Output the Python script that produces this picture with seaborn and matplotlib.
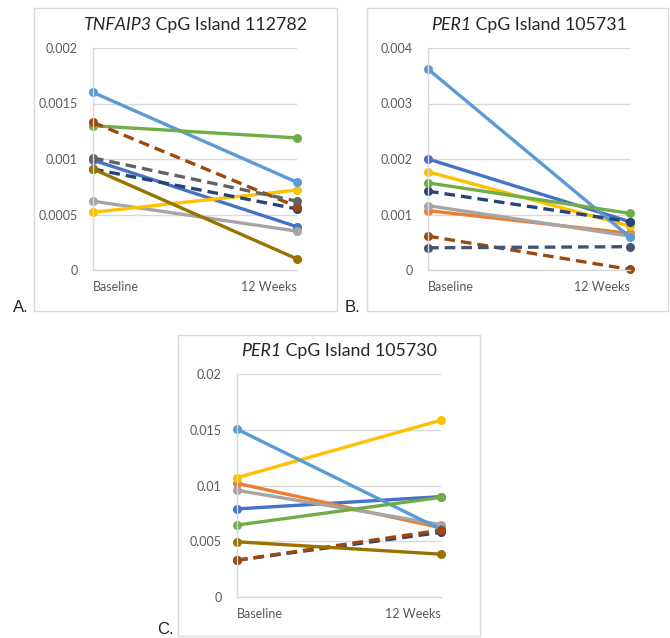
import matplotlib
matplotlib.use("Agg")
import matplotlib.pyplot as plt
from matplotlib.patches import Rectangle
import seaborn as sns
import pandas as pd

sns.set_style("white")
plt.rcParams["font.family"] = ["Lato", "DejaVu Sans"]

times = ["Baseline", "12 Weeks"]

# series name -> (baseline, 12 weeks)
tnfaip3_112782 = {
    "blue": [0.00099, 0.00039],
    "gray": [0.00062, 0.00035],
    "yellow": [0.00052, 0.00072],
    "lightblue": [0.00160, 0.00079],
    "green": [0.00130, 0.00119],
    "navy": [0.00091, 0.00055],
    "brown": [0.00133, 0.00057],
    "darkgray": [0.00101, 0.00062],
    "olive": [0.00091, 0.00010],
}
per1_105731 = {
    "blue": [0.00200, 0.00087],
    "orange": [0.00107, 0.00066],
    "gray": [0.00116, 0.00061],
    "yellow": [0.00177, 0.00079],
    "lightblue": [0.00362, 0.00059],
    "green": [0.00157, 0.00102],
    "navy": [0.00142, 0.00087],
    "brown": [0.00061, 0.00001],
    "slate": [0.00040, 0.00042],
}
per1_105730 = {
    "blue": [0.0079, 0.0090],
    "orange": [0.0102, 0.0062],
    "gray": [0.00957, 0.0065],
    "yellow": [0.0107, 0.01586],
    "lightblue": [0.01505, 0.00606],
    "green": [0.00645, 0.00894],
    "navy": [0.0033, 0.0058],
    "brown": [0.0033, 0.0060],
    "olive": [0.00495, 0.00384],
}

ticks_a = [0, 0.0005, 0.001, 0.0015, 0.002]
ticklabels_a = ["0", "0.0005", "0.001", "0.0015", "0.002"]
ticks_b = [0, 0.001, 0.002, 0.003, 0.004]
ticklabels_b = ["0", "0.001", "0.002", "0.003", "0.004"]
ticks_c = [0, 0.005, 0.01, 0.015, 0.02]
ticklabels_c = ["0", "0.005", "0.01", "0.015", "0.02"]

colors = {
    "blue": "#4472C4", "orange": "#ED7D31", "gray": "#A5A5A5",
    "yellow": "#FFC000", "lightblue": "#5B9BD5", "green": "#70AD47",
    "navy": "#264478", "brown": "#9E480E", "darkgray": "#636363",
    "slate": "#44546A", "olive": "#997300",
}
dashed = {"navy", "brown", "darkgray", "slate"}

W, H = 670, 638
fig = plt.figure(figsize=(W / 100, H / 100), dpi=100)
renderer = fig.canvas.get_renderer()


def px_rect(x0, y0, x1, y1):
    return [x0 / W, 1 - y1 / H, (x1 - x0) / W, (y1 - y0) / H]


def title(cx, y, gene, rest):
    # italic gene name followed by regular text, centred together on cx (pixels)
    kw = dict(fontsize=12.8, color="#262626", va="baseline", ha="left")
    t1 = fig.text(0, 1 - y / H, gene, style="italic", **kw)
    t2 = fig.text(0, 1 - y / H, " " + rest, **kw)
    w1 = t1.get_window_extent(renderer).width
    w2 = t2.get_window_extent(renderer).width
    x0 = cx - (w1 + w2) / 2
    t1.set_x(x0 / W)
    t2.set_x((x0 + w1) / W)


def draw_panel(rect, data, ticks, ticklabels, gene, rest):
    ax = fig.add_axes(px_rect(*rect))
    rows = []
    for name, vals in data.items():
        for i, v in enumerate(vals):
            rows.append({"series": name, "t": i, "value": v})
    df = pd.DataFrame(rows)
    order = list(data.keys())
    sns.lineplot(data=df, x="t", y="value", hue="series", style="series",
                 hue_order=order, style_order=order,
                 palette={k: colors[k] for k in order},
                 dashes={k: ((3.2, 1.8) if k in dashed else "") for k in order},
                 markers={k: "o" for k in order},
                 markersize=6.5, markeredgewidth=0, linewidth=2.4,
                 legend=False, clip_on=False, ax=ax)
    ax.set_xlim(0, 1)
    ax.set_ylim(ticks[0], ticks[-1])
    ax.set_yticks(ticks)
    ax.set_yticklabels(ticklabels)
    ax.set_xticks([0, 1])
    ax.set_xticklabels(times)
    xl = ax.get_xticklabels()
    xl[0].set_ha("left")
    xl[1].set_ha("right")
    ax.tick_params(axis="both", length=0, labelsize=9, labelcolor="#595959")
    ax.tick_params(axis="x", pad=8)
    ax.tick_params(axis="y", pad=11)
    ax.set_xlabel("")
    ax.set_ylabel("")
    ax.grid(axis="y", color="#D9D9D9", linewidth=1)
    ax.set_axisbelow(True)
    for s in ["top", "right"]:
        ax.spines[s].set_visible(False)
    for s in ["left", "bottom"]:
        ax.spines[s].set_color("#D9D9D9")
        ax.spines[s].set_linewidth(1)
    title((rect[0] + rect[2]) / 2, rect[1] - 18, gene, rest)
    return ax


draw_panel((93, 48, 297, 270), tnfaip3_112782, ticks_a, ticklabels_a,
           "TNFAIP3", "CpG Island 112782")
draw_panel((428, 48, 630, 270), per1_105731, ticks_b, ticklabels_b,
           "PER1", "CpG Island 105731")
draw_panel((237, 374, 441, 597), per1_105730, ticks_c, ticklabels_c,
           "PER1", "CpG Island 105730")

# panel frames
for x0, y0, x1, y1 in [(34, 8, 337, 311), (367, 8, 668, 311), (178, 335, 480, 636)]:
    fig.patches.append(Rectangle((x0 / W, 1 - y1 / H), (x1 - x0) / W, (y1 - y0) / H,
                                 transform=fig.transFigure, fill=False,
                                 edgecolor="#D9D9D9", linewidth=1))

for label, x, y in [("A.", 13, 312), ("B.", 345, 312), ("C.", 157, 634)]:
    fig.text(x / W, 1 - y / H, label, fontsize=12, color="#222222",
             family=["Liberation Sans", "DejaVu Sans"], va="baseline")

fig.savefig("out.png", dpi=100, facecolor="white")
